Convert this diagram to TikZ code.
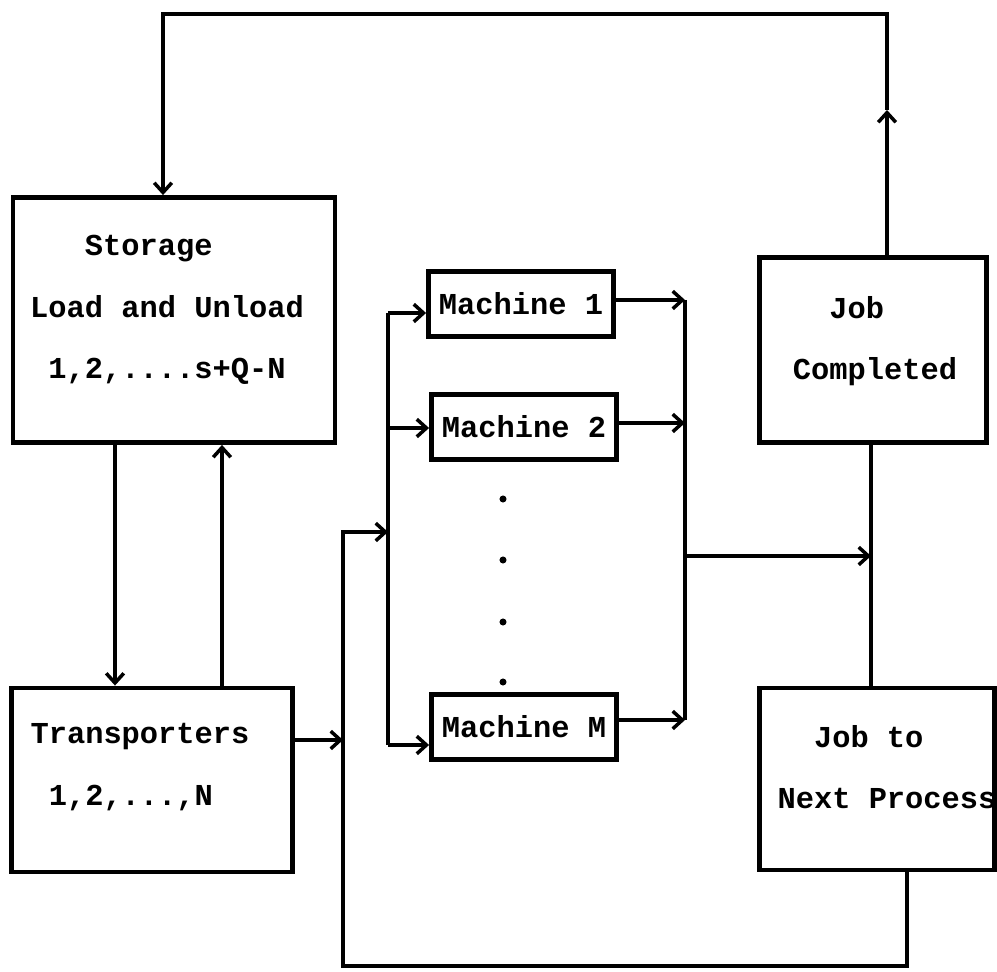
\documentclass[tikz,border=0pt]{standalone}
\usepackage{fontspec}
\newfontfamily\dotfont{Liberation Mono}
\usetikzlibrary{arrows.meta}

\begin{document}
\begin{tikzpicture}[x=0.02cm,y=-0.02cm,
  >={Straight Barb[length=5.5pt,width=10pt]},
  box/.style={draw,line width=2.8pt,inner sep=0pt},
  mach/.style={box,minimum width=3.7cm,minimum height=1.3cm,
    font=\dotfont\bfseries\fontsize{17.3}{35}\selectfont},
  lbl/.style={align=left,inner sep=0pt,
    font=\dotfont\bfseries\fontsize{17.3}{35}\selectfont},
  conn/.style={line width=2pt}]
\useasboundingbox (0,0) rectangle (997,972);

\node[box,minimum width=6.44cm,minimum height=4.9cm] (st) at (174,320) {};
\node[lbl] (stLbl) at (167,310) {~~~Storage\\Load and Unload\\~1,2,....s+Q-N};

\node[box,minimum width=5.62cm,minimum height=3.68cm] (tr) at (152,780) {};
\node[lbl] (trLbl) at (140,767) {Transporters\\~1,2,...,N};

\node[mach] (m1) at (521,304) {Machine 1};
\node[mach] (m2) at (524,427) {Machine 2};
\node[mach] (mm) at (524,727) {Machine M};
\foreach \yy in {499,560,622,682}
  \fill (503,\yy) circle (2pt);

\node[box,minimum width=4.54cm,minimum height=3.7cm] (jc) at (873,350) {};
\node[lbl] (jcLbl) at (875,341) {~~Job\\Completed};

\node[box,minimum width=4.7cm,minimum height=3.64cm] (nxt) at (877,779) {};
\node[lbl] (nxtLbl) at (887,767) {~~Job to\\Next Process};

\coordinate (upTip) at (887,110);
\coordinate (loopR) at (887,14);
\coordinate (loopL) at (163,14);
\coordinate (retT) at (343,532);
\coordinate (retB) at (343,966);
\coordinate (busT) at (388,313);
\coordinate (busB) at (388,745);
\coordinate (colT) at (685,300);
\coordinate (colB) at (685,720);
\coordinate (colM) at (685,556);
\coordinate (jn) at (871,556);

\draw[conn,->] (jc.north -| loopR) -- (upTip);
\draw[conn,->] (upTip) -- (loopR) -- (loopL) -- (st.north -| loopL);

\draw[conn,->] (st.south -| 115,0) -- (tr.north -| 115,0);
\draw[conn,->] (tr.north -| 222,0) -- (st.south -| 222,0);

\draw[conn,->] (tr.east |- 0,740) -- (retT |- 0,740);
\draw[conn,->] (nxt.south -| 907,0) |- (retB) -- (retT) -- (retT -| busT);

\draw[conn] (busT) -- (busB);
\draw[conn,->] (busT) -- (m1.west |- busT);
\draw[conn,->] (busT |- 0,428) -- (m2.west |- 0,428);
\draw[conn,->] (busB) -- (mm.west |- busB);

\draw[conn] (colT) -- (colB);
\draw[conn,->] (m1.east |- colT) -- (colT);
\draw[conn,->] (m2.east |- 0,423) -- (colT |- 0,423);
\draw[conn,->] (mm.east |- colB) -- (colB);

\draw[conn] (jc.south -| jn) -- (nxt.north -| jn);
\draw[conn,->] (colM) -- (jn);
\end{tikzpicture}
\end{document}
